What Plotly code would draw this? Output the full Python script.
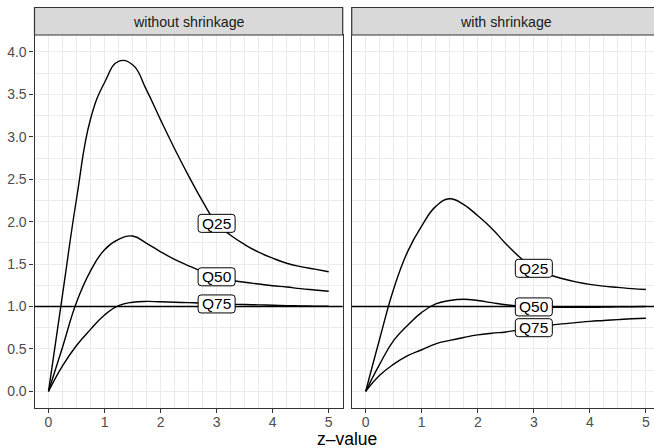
import plotly.graph_objects as go

W, H = 654, 448

z_values = [0, 0.25, 0.5, 0.75, 1, 1.25, 1.5, 1.75, 2, 2.25, 2.5, 2.75, 3,
            3.25, 3.5, 3.75, 4, 4.25, 4.5, 4.75, 5]

# without shrinkage
q25_without = [0, 1.14, 2.27, 3.21, 3.64, 3.89, 3.85, 3.55, 3.20, 2.86, 2.54,
               2.24, 1.98, 1.84, 1.73, 1.64, 1.57, 1.51, 1.47, 1.44, 1.41]
q50_without = [0, 0.52, 1.05, 1.42, 1.67, 1.79, 1.83, 1.745, 1.645, 1.555, 1.48,
               1.41, 1.35, 1.31, 1.285, 1.265, 1.245, 1.23, 1.21, 1.195, 1.18]
q75_without = [0, 0.30, 0.54, 0.73, 0.90, 1.01, 1.05, 1.06, 1.055, 1.05, 1.045,
               1.04, 1.03, 1.027, 1.023, 1.019, 1.015, 1.01, 1.007, 1.004, 1.002]

# with shrinkage
q25_with = [0, 0.62, 1.21, 1.65, 1.95, 2.18, 2.27, 2.20, 2.07, 1.92, 1.74,
            1.58, 1.45, 1.38, 1.33, 1.29, 1.26, 1.24, 1.225, 1.21, 1.20]
q50_with = [0, 0.32, 0.60, 0.78, 0.93, 1.03, 1.07, 1.085, 1.07, 1.045, 1.02,
            1.005, 0.995, 0.99, 0.99, 0.99, 0.99, 0.992, 0.995, 0.997, 1.0]
q75_with = [0, 0.19, 0.32, 0.42, 0.49, 0.56, 0.60, 0.635, 0.665, 0.685, 0.70,
            0.725, 0.75, 0.775, 0.795, 0.81, 0.825, 0.835, 0.845, 0.855, 0.862]

panel_titles = ["without shrinkage", "with shrinkage"]
series_names = ["Q25", "Q50", "Q75"]
label_z = 3
reference_line = 1.0
x_ticks = [0, 1, 2, 3, 4, 5]
y_ticks = [0.0, 0.5, 1.0, 1.5, 2.0, 2.5, 3.0, 3.5, 4.0]
x_title = "z\u2013value"

panels = [
    [q25_without, q50_without, q75_without],
    [q25_with, q50_with, q75_with],
]

# ---- layout geometry (pixels) ----
left_px = [34.5, 342.7]
right_px = [351.7, 654.0]
top_px, bottom_px, strip_top_px = 35.0, 408.3, 7.5
panel_w = left_px[1] - left_px[0]
unit_px = panel_w / 5.5

def fx(px):
    return px / W

def fy(py):
    return (H - py) / H

FONT = "Liberation Sans, Arial, sans-serif"
GRID = "#EBEBEB"
BORDER = "#333333"

fig = go.Figure()

axes = [("x", "y"), ("x2", "y2")]
for (xa, ya), series in zip(axes, panels):
    for vals in series:
        fig.add_trace(go.Scatter(
            x=z_values, y=vals, mode="lines", xaxis=xa, yaxis=ya,
            line=dict(color="black", width=1.4, shape="spline", smoothing=1.3),
            showlegend=False, hoverinfo="skip"))

grid_minor = dict(dtick=0.25, tick0=0, showgrid=True, gridcolor=GRID, gridwidth=1, ticks="")
common_x = dict(
    tickvals=x_ticks, ticktext=[str(t) for t in x_ticks],
    showgrid=True, gridcolor=GRID, gridwidth=1, minor=grid_minor,
    zeroline=False, showline=True, mirror=True, linecolor=BORDER, linewidth=1.2,
    ticks="outside", ticklen=4, tickwidth=1, tickcolor=BORDER,
    ticklabelstandoff=-3,
    tickfont=dict(family=FONT, size=14, color="#4D4D4D"),
    automargin=False,
)
common_y = dict(
    range=[-0.2, 4.2], tickvals=y_ticks,
    showgrid=True, gridcolor=GRID, gridwidth=1, minor=grid_minor,
    zeroline=False, showline=True, mirror=True, linecolor=BORDER, linewidth=1.2,
    tickwidth=1, tickcolor=BORDER, automargin=False,
)

ydom = [fy(bottom_px), fy(top_px)]
right_range = [-0.25, -0.25 + (right_px[1] - right_px[0]) / unit_px]

fig.update_layout(
    width=W, height=H,
    margin=dict(l=0, r=0, t=0, b=0),
    paper_bgcolor="white", plot_bgcolor="white",
    xaxis=dict(domain=[fx(left_px[0]), fx(left_px[1])], range=[-0.25, 5.25],
               anchor="y", **common_x),
    xaxis2=dict(domain=[fx(right_px[0]), fx(right_px[1])], range=right_range,
                anchor="y2", **common_x),
    yaxis=dict(domain=ydom, anchor="x", ticks="outside", ticklen=4,
               ticktext=[f"{t:.1f}" for t in y_ticks],
               tickfont=dict(family=FONT, size=14, color="#4D4D4D"), **common_y),
    yaxis2=dict(domain=ydom, anchor="x2", matches="y", ticks="",
                showticklabels=False, **common_y),
)

shapes = []
annotations = []

# horizontal reference lines
for xa, ya in axes:
    shapes.append(dict(type="line", xref=f"{xa} domain", yref=ya,
                       x0=0, x1=1, y0=reference_line, y1=reference_line,
                       line=dict(color="black", width=1.4), layer="above"))

# labels at z = label_z
idx = z_values.index(label_z)
bw, bh, r = 18.5, 9.0, 3.0
box_path = (f"M {-bw + r},{-bh} L {bw - r},{-bh} Q {bw},{-bh} {bw},{-bh + r} "
            f"L {bw},{bh - r} Q {bw},{bh} {bw - r},{bh} L {-bw + r},{bh} "
            f"Q {-bw},{bh} {-bw},{bh - r} L {-bw},{-bh + r} Q {-bw},{-bh} {-bw + r},{-bh} Z")
for (xa, ya), series in zip(axes, panels):
    for name, vals in zip(series_names, series):
        shapes.append(dict(type="path", xref=xa, yref=ya,
                           xsizemode="pixel", ysizemode="pixel",
                           xanchor=label_z, yanchor=vals[idx], path=box_path,
                           fillcolor="white", line=dict(color="black", width=1),
                           layer="above"))
        annotations.append(dict(x=label_z, y=vals[idx], xref=xa, yref=ya,
                                text=name, showarrow=False,
                                font=dict(family=FONT, size=15.5, color="black"),
                                xanchor="center", yanchor="middle"))

# facet strips (the right panel continues past the window edge)
for x0, title in zip([left_px[0], right_px[0]], panel_titles):
    x1 = min(x0 + panel_w, W + 2)
    shapes.append(dict(type="rect", xref="paper", yref="paper",
                       x0=fx(x0), x1=fx(x1), y0=fy(top_px), y1=fy(strip_top_px),
                       fillcolor="#D9D9D9", line=dict(color=BORDER, width=1.2),
                       layer="above"))
    annotations.append(dict(x=fx(x0 + panel_w / 2), y=fy((top_px + strip_top_px) / 2 + 0.5),
                            xref="paper", yref="paper", text=title, showarrow=False,
                            font=dict(family=FONT, size=14.2, color="#1A1A1A"),
                            xanchor="center", yanchor="middle"))

# x-axis title centred under both panels
full_right = right_px[0] + panel_w
annotations.append(dict(x=fx((left_px[0] + full_right) / 2), y=fy(438.5),
                        xref="paper", yref="paper", text=x_title, showarrow=False,
                        font=dict(family=FONT, size=17.5, color="black"),
                        xanchor="center", yanchor="middle"))

fig.update_layout(shapes=shapes, annotations=annotations)
fig.write_html("out.html")
